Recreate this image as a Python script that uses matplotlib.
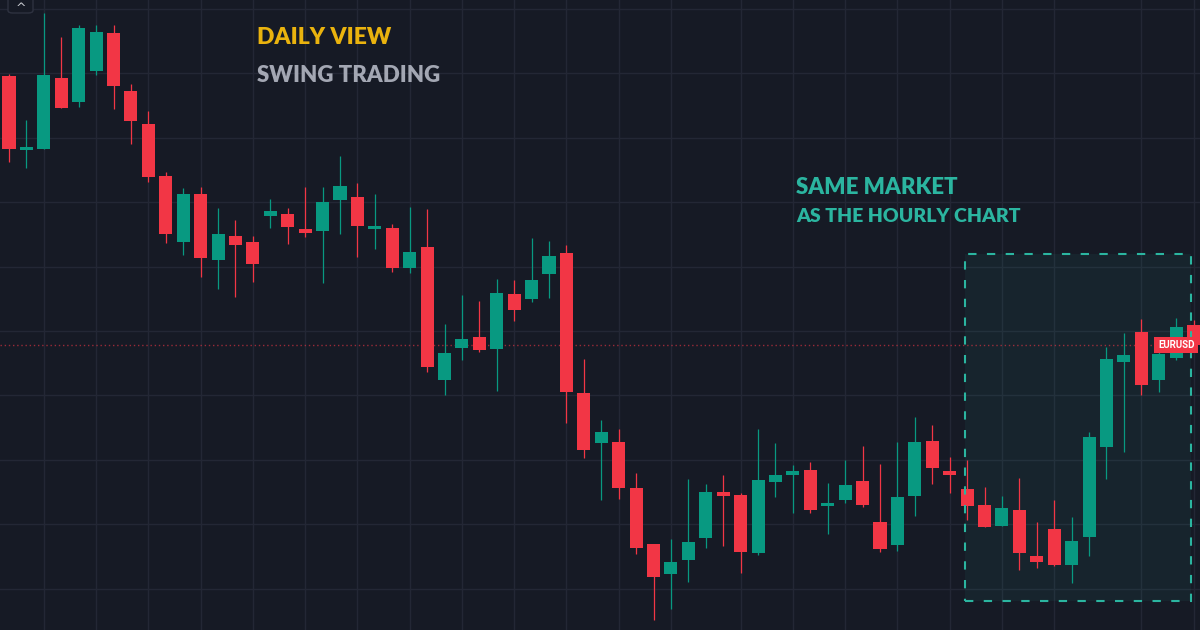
import matplotlib
matplotlib.use("Agg")
import matplotlib.pyplot as plt
from matplotlib.patches import Rectangle, FancyBboxPatch

# velas diarias (unidades de precio relativas)
opens  = [554, 480, 481, 552, 528, 559, 597, 539, 506, 454, 388, 436, 370, 394, 388, 414, 416, 401, 399, 430,
          433, 402, 402, 362, 383, 250, 282, 293, 281, 336, 331, 356, 377, 237, 187, 188, 142, 86, 56, 70,
          92, 138, 135, 77, 148, 155, 160, 124, 130, 149, 108, 85, 134, 189, 159, 141, 125, 104, 120, 74,
          101, 65, 93, 183, 268, 298, 250, 272, 305]
highs  = [556, 510, 617, 593, 605, 605, 605, 546, 519, 458, 442, 443, 422, 410, 394, 431, 422, 443, 443, 474,
          447, 436, 406, 423, 421, 306, 335, 329, 351, 350, 392, 389, 385, 271, 210, 201, 157, 86, 91, 151,
          146, 155, 137, 201, 187, 165, 168, 147, 170, 184, 166, 188, 213, 205, 173, 170, 143, 134, 152, 108,
          130, 113, 198, 283, 297, 311, 278, 312, 310]
lows   = [468, 462, 481, 522, 523, 555, 521, 486, 448, 387, 375, 353, 341, 333, 348, 402, 386, 393, 347, 396,
          373, 381, 358, 357, 258, 235, 270, 278, 239, 309, 328, 332, 207, 172, 130, 131, 76, 10, 21, 48,
          82, 84, 57, 75, 133, 117, 117, 96, 127, 123, 78, 79, 114, 146, 137, 110, 103, 104, 60, 62,
          64, 47, 74, 151, 178, 235, 238, 270, 283]
closes = [481, 483, 555, 522, 602, 598, 544, 509, 453, 396, 436, 372, 396, 385, 366, 419, 403, 397, 428, 444,
          404, 403, 362, 378, 263, 277, 291, 280, 337, 320, 350, 374, 238, 180, 198, 142, 82, 53, 68, 88,
          138, 134, 78, 150, 155, 159, 120, 127, 145, 125, 81, 133, 188, 162, 155, 124, 103, 122, 77, 68,
          65, 89, 193, 271, 275, 245, 276, 303, 285]

lastPrice = 285
gridX = [2, 5, 8, 11, 14, 17, 20, 23, 26, 29, 32, 35, 38, 42, 45, 48, 51, 54, 57, 60, 65, 68]
gridY = [41, 106, 170, 235, 299, 363, 428, 492, 557, 621]
boxX = (54.88, 67.85)   # zona del grafico horario
boxY = (29, 376)

bg = "#161a25"
red = "#f23645"
green = "#089981"
teal = "#2bb5a0"

fig = plt.figure(figsize=(12, 6.3), dpi=100, facecolor=bg)
ax = fig.add_axes([0, 0, 1, 1])
ax.set_facecolor(bg)
ax.set_xlim(-0.517, 68.37)
ax.set_ylim(0, 630)
ax.axis("off")

for gx in gridX:
    ax.axvline(gx, color="#232735", lw=1, zorder=0)
for gy in gridY:
    ax.axhline(gy, color="#232735", lw=1, zorder=0)

# caja punteada
ax.add_patch(Rectangle((boxX[0], boxY[0]), boxX[1] - boxX[0], boxY[1] - boxY[0],
                       facecolor=teal, alpha=0.07, edgecolor="none", zorder=1))
ax.add_patch(Rectangle((boxX[0], boxY[0]), boxX[1] - boxX[0], boxY[1] - boxY[0],
                       facecolor="none", edgecolor=teal, lw=1.5, linestyle=(0, (4, 5)), zorder=4))

# linea de precio actual
ax.axhline(lastPrice, color=red, lw=1, linestyle=(0, (1, 2)), alpha=0.6, zorder=1)

for i in range(len(opens)):
    o, h, l, c = opens[i], highs[i], lows[i], closes[i]
    col = green if c >= o else red
    ax.vlines(i, l, h, color=col, lw=0.9, zorder=2)
    ax.bar(i, max(abs(c - o), 3), bottom=min(o, c) if abs(c - o) >= 3 else (o + c) / 2 - 1.5,
           width=0.75, color=col, zorder=3)

ax.text(67.0, lastPrice, "EURUSD", color="white", fontsize=7, fontweight="bold", family="Roboto",
        ha="center", va="center", zorder=6,
        bbox=dict(boxstyle="square,pad=0.35", facecolor=red, edgecolor="none"))

ax.text(14.24, 592, "DAILY VIEW", color="#eab30e", fontsize=16.5, fontweight="heavy", family="Lato",
        ha="left", va="center")
ax.text(14.24, 554, "SWING TRADING", color="#a3a7b3", fontsize=16, fontweight="heavy", family="Lato",
        ha="left", va="center")
ax.text(45.18, 443, "SAME MARKET", color=teal, fontsize=16, fontweight="heavy", family="Lato",
        ha="left", va="center")
ax.text(45.18, 413, "AS THE HOURLY CHART", color=teal, fontsize=14, fontweight="heavy", family="Lato",
        ha="left", va="center")

# boton de la esquina
fig.patches.append(FancyBboxPatch((8 / 1200, 617 / 630), 25 / 1200, 20 / 630,
                                  boxstyle="round,pad=0,rounding_size=0.004",
                                  facecolor=bg, edgecolor="#2e3240", lw=1,
                                  transform=fig.transFigure, figure=fig))
fig.text(20.5 / 1200, 622 / 630, "^", color="#c8cad0", fontsize=9, ha="center", va="center")

fig.savefig("out.png", dpi=100, facecolor=bg)
